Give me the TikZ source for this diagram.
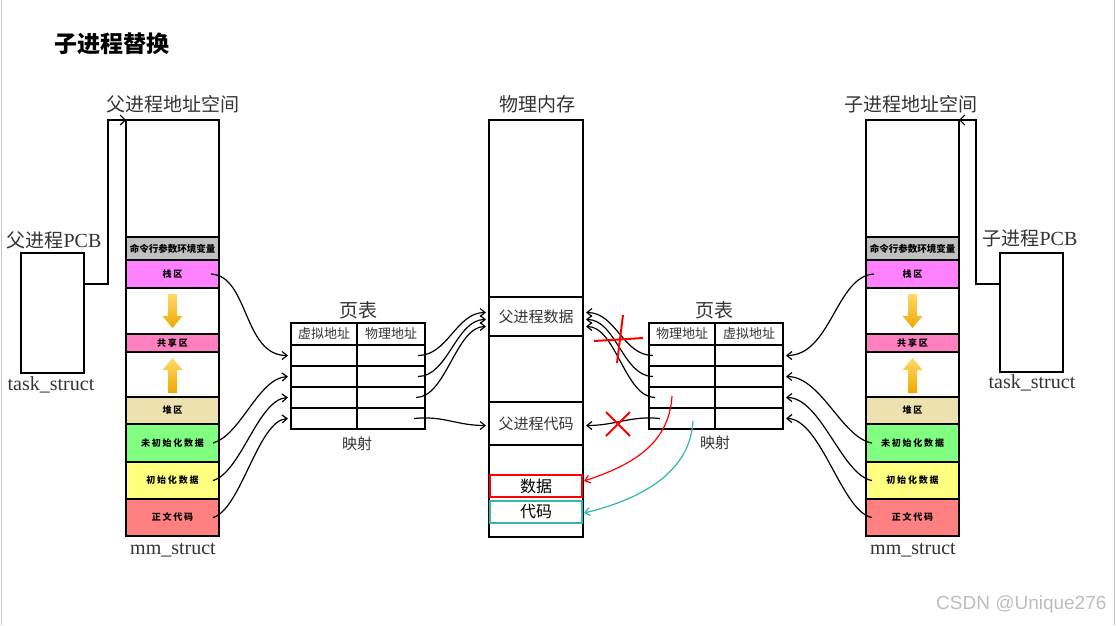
\documentclass[tikz,border=0pt]{standalone}
\usepackage{fontspec}
\setmainfont{Liberation Serif}
\newfontfamily\cjk{Noto Sans CJK SC}
\newfontfamily\cjksp[LetterSpace=20]{Noto Sans CJK SC}
\newfontfamily\wmfont{Liberation Sans}
\usetikzlibrary{arrows.meta}
\definecolor{txt}{HTML}{333333}
\definecolor{cmdc}{HTML}{C0C0C0}
\definecolor{stackc}{HTML}{FF80FF}
\definecolor{sharec}{HTML}{FF80C0}
\definecolor{heapc}{HTML}{EEE1B0}
\definecolor{bssc}{HTML}{80FF80}
\definecolor{datac}{HTML}{FFFF80}
\definecolor{textc}{HTML}{FF8080}
\definecolor{tealc}{HTML}{30B8A8}
\definecolor{goldtop}{HTML}{FFD966}
\definecolor{goldbot}{HTML}{EEA800}
\definecolor{edgec}{HTML}{C8C8C8}
\definecolor{wmc}{HTML}{BDBDBD}
\tikzset{
  box/.style={draw, line width=1.5pt, inner sep=0pt, outer sep=0pt, anchor=north west},
  seg/.style={box, minimum width=93pt},
  pseg/.style={box, minimum width=94pt},
  cella/.style={box, minimum width=66pt, minimum height=21pt},
  cellb/.style={box, minimum width=68pt, minimum height=21pt},
  lblbig/.style={font=\fontsize{19}{19}\selectfont\cjk, text=txt},
  lbllat/.style={font=\fontsize{20}{20}\selectfont, text=txt},
  lblsmall/.style={font=\fontsize{9}{9}\selectfont\cjksp\bfseries},
  lblcmd/.style={font=\fontsize{9.5}{9.5}\selectfont\cjk\bfseries},
  lblhdr/.style={font=\fontsize{13}{13}\selectfont\cjk, text=txt},
  lblmem/.style={font=\fontsize{15}{15}\selectfont\cjk, text=txt},
  arr/.style={-{Straight Barb[length=5pt,width=10pt]}, line width=1.2pt},
  carr/.style={-{Straight Barb[length=5pt,width=8pt]}, line width=1.2pt},
  cross/.style={red, line width=2pt},
  downarr/.pic={\shade[top color=goldtop, bottom color=goldbot]
     (-4.5,-17) -- (4.5,-17) -- (4.5,5) -- (10,5) -- (0,17) -- (-10,5) -- (-4.5,5) -- cycle;},
  uparr/.pic={\shade[top color=goldtop, bottom color=goldbot]
     (0,-16.5) -- (10,-4.5) -- (4.5,-4.5) -- (4.5,18.5) -- (-4.5,18.5) -- (-4.5,-4.5) -- (-10,-4.5) -- cycle;}
}
\begin{document}
\begin{tikzpicture}[x=1pt,y=-1pt]
\useasboundingbox (0,0) rectangle (1116,625);
\fill[white] (0,0) rectangle (1116,625);
\draw[edgec, line width=1pt] (1,0) -- (1,625);
\draw[edgec, line width=1pt] (1114,0) -- (1114,625);

% title
\node[anchor=west, font=\fontsize{23}{23}\selectfont\cjk\bfseries] (title) at (51,44) {子进程替换};

% ---------- parent PCB ----------
\node[box, minimum width=63pt, minimum height=120pt] (lpcb) at (21,253) {};
\node[lblbig] (lpcbl) at (54,240) {父进程{\fontsize{20}{20}\selectfont\rmfamily PCB}};
\node[lbllat] (ltask) at (51,385) {task\_struct};

% ---------- parent address space ----------
\node[lblbig] (lcoll) at (173,104) {父进程地址空间};
\node[seg, minimum height=117pt] (Ltop) at (126,120) {};
\node[seg, fill=cmdc, minimum height=23pt, lblcmd] (Lcmd) at (126,237) {命令行参数环境变量};
\node[seg, fill=stackc, minimum height=28pt, lblsmall] (Lstack) at (126,260) {栈区};
\node[seg, minimum height=46pt] (Lgap1) at (126,288) {};
\node[seg, fill=sharec, minimum height=18pt, lblsmall] (Lshare) at (126,334) {共享区};
\node[seg, minimum height=45pt] (Lgap2) at (126,352) {};
\node[seg, fill=heapc, minimum height=27pt, lblsmall] (Lheap) at (126,397) {堆区};
\node[seg, fill=bssc, minimum height=38pt, lblsmall] (Lbss) at (126,424) {未初始化数据};
\node[seg, fill=datac, minimum height=37pt, lblsmall] (Ldata) at (126,462) {初始化数据};
\node[seg, fill=textc, minimum height=37pt, lblsmall] (Ltext) at (126,499) {正文代码};
\pic at (Lgap1.center) {downarr};
\pic at (Lgap2.center) {uparr};
\node[lbllat] (lmm) at (173,550) {mm\_struct};

\draw[arr] ([yshift=-31pt]lpcb.north east) -- ++(24,0) |- (Ltop.north west);

% ---------- left page table ----------
\node[lblbig] (lptl) at (358,310) {页表};
\node[cella, minimum height=22pt, lblhdr] (lt0a) at (291,323) {虚拟地址};
\node[cellb, minimum height=22pt, lblhdr] (lt0b) at (357,323) {物理地址};
\node[cella] (lt1a) at (291,345) {};
\node[cellb] (lt1b) at (357,345) {};
\node[cella] (lt2a) at (291,366) {};
\node[cellb] (lt2b) at (357,366) {};
\node[cella] (lt3a) at (291,387) {};
\node[cellb] (lt3b) at (357,387) {};
\node[cella] (lt4a) at (291,408) {};
\node[cellb] (lt4b) at (357,408) {};
\node[lblmem] (lmap) at (357,444) {映射};

% ---------- physical memory ----------
\node[lblbig] (pml) at (537,104) {物理内存};
\node[pseg, minimum height=177pt] (ptop) at (489,120) {};
\node[pseg, minimum height=39pt, lblmem] (pdata) at (489,297) {父进程数据};
\node[pseg, minimum height=66pt] (pgap) at (489,336) {};
\node[pseg, minimum height=43pt, lblmem] (pcode) at (489,402) {父进程代码};
\node[pseg, minimum height=92pt] (pbot) at (489,445) {};
\node[box, draw=red, line width=1.8pt, minimum width=92pt, minimum height=22pt,
      font=\fontsize{16}{16}\selectfont\cjk] (rdata) at (490,475) {数据};
\node[box, draw=tealc, line width=1.8pt, minimum width=92pt, minimum height=22pt,
      font=\fontsize{16}{16}\selectfont\cjk] (rcode) at (490,501) {代码};

% ---------- right page table ----------
\node[lblbig] (rptl) at (714,310) {页表};
\node[cella, minimum height=22pt, lblhdr] (rt0a) at (649,323) {物理地址};
\node[cellb, minimum height=22pt, lblhdr] (rt0b) at (715,323) {虚拟地址};
\node[cella] (rt1a) at (649,345) {};
\node[cellb] (rt1b) at (715,345) {};
\node[cella] (rt2a) at (649,366) {};
\node[cellb] (rt2b) at (715,366) {};
\node[cella] (rt3a) at (649,387) {};
\node[cellb] (rt3b) at (715,387) {};
\node[cella] (rt4a) at (649,408) {};
\node[cellb] (rt4b) at (715,408) {};
\node[lblmem] (rmap) at (715,443) {映射};

% ---------- child address space ----------
\node[lblbig] (rcoll) at (911,104) {子进程地址空间};
\node[seg, minimum height=117pt] (Rtop) at (866,120) {};
\node[seg, fill=cmdc, minimum height=23pt, lblcmd] (Rcmd) at (866,237) {命令行参数环境变量};
\node[seg, fill=stackc, minimum height=28pt, lblsmall] (Rstack) at (866,260) {栈区};
\node[seg, minimum height=46pt] (Rgap1) at (866,288) {};
\node[seg, fill=sharec, minimum height=18pt, lblsmall] (Rshare) at (866,334) {共享区};
\node[seg, minimum height=45pt] (Rgap2) at (866,352) {};
\node[seg, fill=heapc, minimum height=27pt, lblsmall] (Rheap) at (866,397) {堆区};
\node[seg, fill=bssc, minimum height=38pt, lblsmall] (Rbss) at (866,424) {未初始化数据};
\node[seg, fill=datac, minimum height=37pt, lblsmall] (Rdata) at (866,462) {初始化数据};
\node[seg, fill=textc, minimum height=37pt, lblsmall] (Rtext) at (866,499) {正文代码};
\pic at (Rgap1.center) {downarr};
\pic at (Rgap2.center) {uparr};
\node[lbllat] (rmm) at (913,550) {mm\_struct};

% ---------- child PCB ----------
\node[box, minimum width=63pt, minimum height=119pt] (rpcb) at (1000,253) {};
\node[lblbig] (rpcbl) at (1030,238) {子进程{\fontsize{20}{20}\selectfont\rmfamily PCB}};
\node[lbllat] (rtask) at (1032,383) {task\_struct};
\draw[arr] ([yshift=-31pt]rpcb.north west) -- ++(-24,0) |- (Rtop.north east);

% ---------- left column -> left page table ----------
\draw[carr] ([xshift=-8pt]Lstack.east) .. controls +(38,2) and +(-45,0) .. ([xshift=-3pt]lt1a.west);
\draw[carr] ([xshift=-6pt]Lbss.east) .. controls +(28,-8) and +(-30,2) .. ([xshift=-3pt]lt2a.west);
\draw[carr] ([xshift=-6pt]Ldata.east) .. controls +(28,-8) and +(-30,2) .. ([xshift=-3pt]lt3a.west);
\draw[carr] ([xshift=-6pt]Ltext.east) .. controls +(28,-8) and +(-30,2) .. ([xshift=-3pt]lt4a.west);

% ---------- left page table -> physical memory ----------
\draw[carr] ([xshift=-7pt]lt1b.east) .. controls +(30,0) and +(-30,0) .. ([xshift=-3pt,yshift=4pt]pdata.west);
\draw[carr] ([xshift=-7pt]lt2b.east) .. controls +(30,0) and +(-30,0) .. ([xshift=-3pt,yshift=-3pt]pdata.west);
\draw[carr] ([xshift=-9pt]lt3b.east) .. controls +(30,0) and +(-30,0) .. ([xshift=-3pt,yshift=-10pt]pdata.west);
\draw[carr] ([xshift=-11pt]lt4b.east) .. controls +(30,-3) and +(-30,0) .. ([xshift=-3pt,yshift=-2pt]pcode.west);

% ---------- right page table -> physical memory ----------
\draw[carr] ([xshift=4pt]rt1a.west) .. controls +(-30,0) and +(30,0) .. ([xshift=3pt,yshift=4pt]pdata.east);
\draw[carr] ([xshift=4pt]rt2a.west) .. controls +(-30,0) and +(30,0) .. ([xshift=3pt,yshift=-3pt]pdata.east);
\draw[carr] ([xshift=6pt]rt3a.west) .. controls +(-30,0) and +(30,0) .. ([xshift=3pt,yshift=-10pt]pdata.east);
\draw[carr] ([xshift=11pt]rt4a.west) .. controls +(-30,-3) and +(30,0) .. ([xshift=3pt,yshift=-2pt]pcode.east);

% red crosses
\draw[cross] (594,341) -- (643,338);
\draw[cross] (623,315) -- (617,363);
\draw[cross] (606,412) -- (630,436);
\draw[cross] (606,436) -- (630,412);

% new mappings
\coordinate (rs) at (672,396);
\coordinate (ts) at (693,421);
\draw[red, carr] (rs) .. controls +(-3,50) and +(45,-15) .. ([xshift=2pt,yshift=5pt]rdata.east);
\draw[tealc, carr] (ts) .. controls +(-3,55) and +(50,-12) .. ([xshift=2pt,yshift=-1pt]rcode.east);

% ---------- right column -> right page table ----------
\draw[carr] ([xshift=8pt]Rstack.west) .. controls +(-38,2) and +(45,0) .. ([xshift=3pt]rt1b.east);
\draw[carr] ([xshift=6pt]Rbss.west) .. controls +(-30,-5) and +(35,0) .. ([xshift=3pt]rt2b.east);
\draw[carr] ([xshift=6pt]Rdata.west) .. controls +(-30,-5) and +(35,0) .. ([xshift=3pt]rt3b.east);
\draw[carr] ([xshift=6pt]Rtext.west) .. controls +(-30,-5) and +(35,0) .. ([xshift=3pt]rt4b.east);

% watermark
\node[anchor=east, font=\fontsize{19}{19}\selectfont\wmfont, text=wmc] (wm) at (1110,605) {CSDN @Unique276};
\end{tikzpicture}
\end{document}
